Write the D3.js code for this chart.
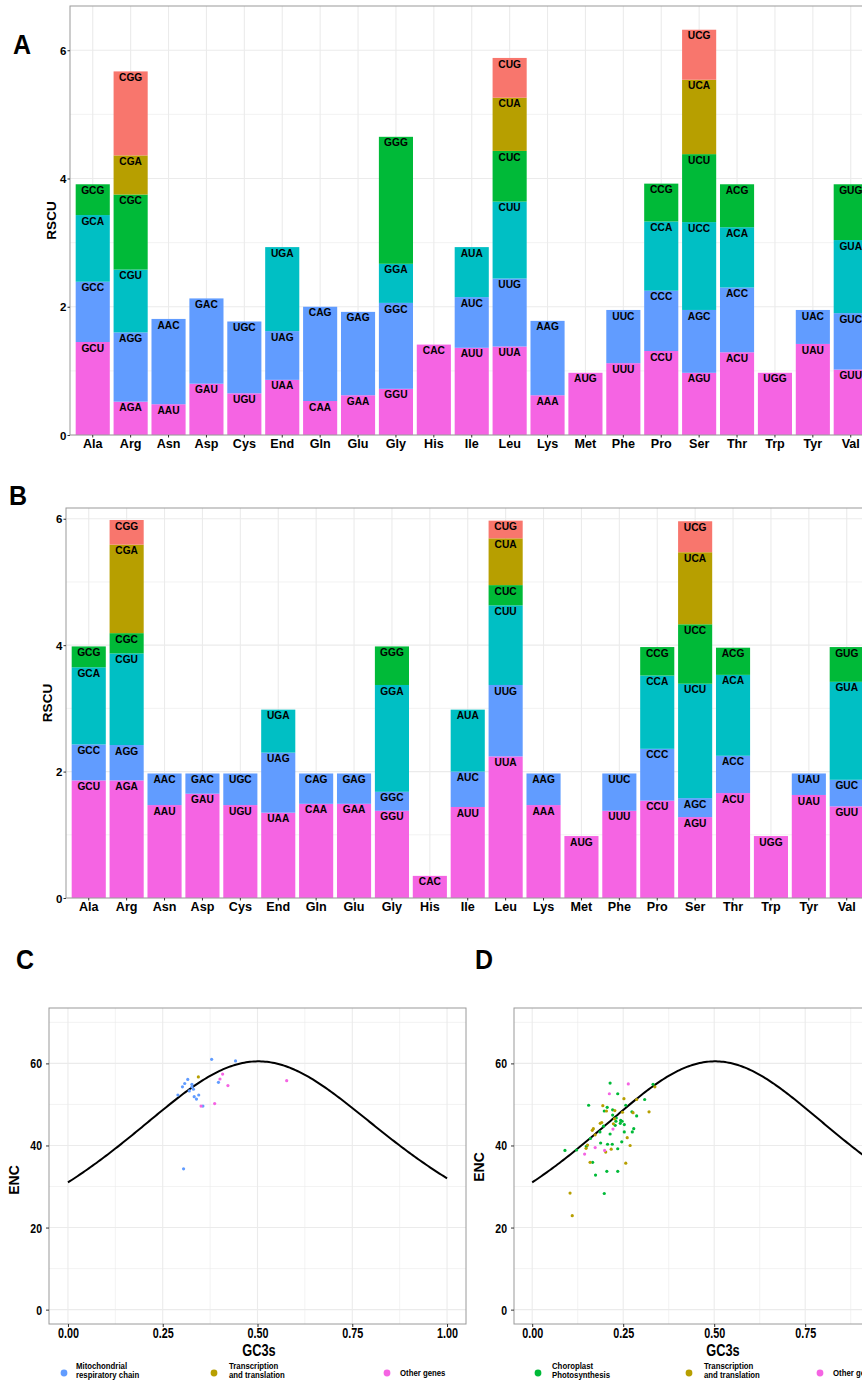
<!DOCTYPE html>
<html>
<head>
<meta charset="utf-8">
<script src="https://cdn.jsdelivr.net/npm/d3@7"></script>
<style>
body { margin: 0; background: #fff; }
svg { display: block; }
text { font-family: "Liberation Sans", Arial, sans-serif; font-weight: bold; fill: #000; }
</style>
</head>
<body>
<div id="chart"></div>
<script>
// amino acids along the x axis of A and B
var aminoAcids = ["Ala","Arg","Asn","Asp","Cys","End","Gln","Glu","Gly","His","Ile","Leu","Lys","Met","Phe","Pro","Ser","Thr","Trp","Tyr","Val"];

// codons of each amino acid, bottom of the stack first
var codonsA = [["GCU","GCC","GCA","GCG"],["AGA","AGG","CGU","CGC","CGA","CGG"],["AAU","AAC"],["GAU","GAC"],["UGU","UGC"],
  ["UAA","UAG","UGA"],["CAA","CAG"],["GAA","GAG"],["GGU","GGC","GGA","GGG"],["CAC"],["AUU","AUC","AUA"],
  ["UUA","UUG","CUU","CUC","CUA","CUG"],["AAA","AAG"],["AUG"],["UUU","UUC"],["CCU","CCC","CCA","CCG"],
  ["AGU","AGC","UCC","UCU","UCA","UCG"],["ACU","ACC","ACA","ACG"],["UGG"],["UAU","UAC"],["GUU","GUC","GUA","GUG"]];
var codonsB = [["GCU","GCC","GCA","GCG"],["AGA","AGG","CGU","CGC","CGA","CGG"],["AAU","AAC"],["GAU","GAC"],["UGU","UGC"],
  ["UAA","UAG","UGA"],["CAA","CAG"],["GAA","GAG"],["GGU","GGC","GGA","GGG"],["CAC"],["AUU","AUC","AUA"],
  ["UUA","UUG","CUU","CUC","CUA","CUG"],["AAA","AAG"],["AUG"],["UUU","UUC"],["CCU","CCC","CCA","CCG"],
  ["AGU","AGC","UCU","UCC","UCA","UCG"],["ACU","ACC","ACA","ACG"],["UGG"],["UAU","UAU"],["GUU","GUC","GUA","GUG"]];

// RSCU values, same order as the codons
var rscuA = [[1.45,0.94,1.04,0.48],[0.52,1.08,0.98,1.17,0.61,1.31],[0.48,1.33],[0.80,1.33],[0.65,1.12],
  [0.86,0.76,1.31],[0.53,1.47],[0.62,1.30],[0.72,1.34,0.61,1.98],[1.41],[1.36,0.79,0.78],
  [1.38,1.06,1.20,0.79,0.83,0.62],[0.62,1.16],[0.97],[1.12,0.83],[1.31,0.94,1.08,0.59],
  [0.97,0.98,1.37,1.06,1.16,0.78],[1.29,1.01,0.94,0.67],[0.97],[1.42,0.53],[1.02,0.88,1.14,0.87]];
var rscuB = [[1.86,0.57,1.22,0.33],[1.86,0.56,1.45,0.32,1.40,0.39],[1.47,0.50],[1.65,0.32],[1.47,0.50],
  [1.35,0.95,0.68],[1.49,0.48],[1.49,0.48],[1.38,0.30,1.69,0.61],[0.35],[1.44,0.56,0.98],
  [2.24,1.13,1.26,0.32,0.74,0.28],[1.47,0.50],[0.98],[1.38,0.59],[1.54,0.82,1.16,0.45],
  [1.28,0.30,1.81,0.94,1.14,0.49],[1.66,0.59,1.28,0.43],[0.98],[1.63,0.34],[1.45,0.42,1.55,0.55]];

// C: GC3s / ENC of the mitochondrial genes
var mitoGC3 = [0.379,0.442,0.316,0.308,0.397,0.302,0.327,0.327,0.331,0.320,0.290,0.345,0.333,0.339,0.356,0.305];
var mitoENC = [61.0,60.6,56.1,55.1,55.4,54.3,54.9,54.3,53.7,53.3,52.3,52.3,51.9,51.3,49.6,34.3];
var mitoTransGC3 = [0.344];
var mitoTransENC = [56.7];
var mitoOtherGC3 = [0.408,0.401,0.577,0.422,0.387,0.351];
var mitoOtherENC = [57.4,56.2,55.8,54.6,50.2,49.6];

// D: GC3s / ENC of the chloroplast genes
var photoGC3 = [0.214,0.235,0.332,0.155,0.257,0.309,0.206,0.221,0.198,0.274,0.287,0.221,0.231,0.243,0.247,0.230,0.242,0.253,0.228,0.196,
  0.279,0.186,0.253,0.275,0.214,0.160,0.246,0.188,0.207,0.220,0.149,0.235,0.090,0.122,0.166,0.174,0.205,0.235,0.198];
var photoENC = [55.2,52.6,54.9,49.8,49.8,51.2,49.3,48.7,48.4,48.2,47.2,47.4,46.7,46.1,45.9,45.9,45.4,45.1,44.9,44.7,
  44.1,43.3,43.3,43.3,42.8,41.7,40.9,40.6,40.3,40.3,39.8,39.2,38.8,38.9,35.9,32.8,33.7,33.7,28.3];
var chloTransGC3 = [0.337,0.252,0.287,0.194,0.227,0.204,0.248,0.277,0.321,0.226,0.191,0.187,0.168,0.165,0.223,0.173,0.261,0.269,
  0.152,0.148,0.217,0.202,0.159,0.257,0.104,0.110];
var chloTransENC = [54.3,51.4,51.2,49.7,48.5,48.4,48.1,48.0,48.2,46.5,45.6,45.4,44.1,43.7,45.3,42.6,41.9,40.0,
  40.1,39.3,39.1,38.4,35.9,35.7,28.4,22.9];
var chloOtherGC3 = [0.264,0.212,0.173,0.144,0.199,0.222];
var chloOtherENC = [55.0,52.6,39.5,37.9,38.8,44.0];

var palette = ["#F564E3","#619CFF","#00BFC4","#00BA38","#B79F00","#F8766D"]; // bottom segment first
var gridCol = "#ebebeb";

var W = 862, H = 1382;
var svg = d3.select("#chart").append("svg").attr("width", W).attr("height", H);

function label(x, y, str, size, sy, anchor) {
  return svg.append("text")
    .attr("transform", "translate(" + x + "," + y + ") scale(1," + sy + ")")
    .attr("text-anchor", anchor || "middle")
    .style("font-size", size + "px")
    .text(str);
}

function styleAxis(g) {
  g.attr("font-family", null).attr("font-size", null);
  g.select(".domain").remove();
  g.selectAll(".tick line").attr("stroke", "#333");
}

///////////////////////
// A and B: stacked RSCU bars
function drawRSCU(codons, values, left, top, bottom, ymax, letter, letterY) {
  var x = d3.scaleBand().domain(aminoAcids)
    .range([left, left + 21.2 * 37.9])
    .paddingInner(0.1).paddingOuter(0.15);
  var y = d3.scaleLinear().domain([0, ymax]).range([bottom, top]);
  var right = left + 21.2 * 37.9;
  var g = svg.append("g");

  g.selectAll("line.minor").data([1, 3, 5]).enter().append("line")
    .attr("x1", left).attr("x2", right)
    .attr("y1", d => y(d)).attr("y2", d => y(d))
    .attr("stroke", gridCol).attr("stroke-width", 0.6);
  g.selectAll("line.major").data([0, 2, 4, 6]).enter().append("line")
    .attr("x1", left).attr("x2", right)
    .attr("y1", d => y(d)).attr("y2", d => y(d))
    .attr("stroke", gridCol).attr("stroke-width", 1.1);
  g.selectAll("line.vgrid").data(aminoAcids).enter().append("line")
    .attr("x1", d => x(d) + x.bandwidth() / 2).attr("x2", d => x(d) + x.bandwidth() / 2)
    .attr("y1", top).attr("y2", bottom)
    .attr("stroke", gridCol).attr("stroke-width", 1.1);

  // one record per stacked codon segment
  var segs = [];
  aminoAcids.forEach(function(aa, i) {
    var cum = d3.cumsum(values[i]);
    values[i].forEach(function(v, j) {
      segs.push({ aa: aa, codon: codons[i][j], y0: cum[j] - v, y1: cum[j], k: j });
    });
  });

  g.selectAll("rect").data(segs).enter().append("rect")
    .attr("x", d => x(d.aa))
    .attr("width", x.bandwidth())
    .attr("y", d => y(d.y1))
    .attr("height", d => y(d.y0) - y(d.y1))
    .attr("fill", d => palette[d.k]);

  g.selectAll("text.codon").data(segs).enter().append("text")
    .attr("class", "codon")
    .attr("text-anchor", "middle")
    .attr("transform", d => "translate(" + (x(d.aa) + x.bandwidth() / 2) + "," + (y(d.y1) + 9.6) + ") scale(1,1.1)")
    .style("font-size", "10.2px")
    .text(d => d.codon);

  g.append("rect").attr("x", left).attr("y", top)
    .attr("width", right - left).attr("height", bottom - top)
    .attr("fill", "none").attr("stroke", "#9a9a9a").attr("stroke-width", 1);

  var ay = g.append("g").attr("transform", "translate(" + left + ",0)")
    .call(d3.axisLeft(y).tickValues([0, 2, 4, 6]).tickFormat(d3.format("d")).tickSize(2.5).tickPadding(1));
  styleAxis(ay);
  ay.selectAll("text").style("font-size", "11.5px").attr("dy", "0.36em");

  var ax = g.append("g").attr("transform", "translate(0," + bottom + ")")
    .call(d3.axisBottom(x).tickSize(2.5));
  styleAxis(ax);
  ax.selectAll("text").style("font-size", "12.6px").attr("dy", 0).attr("y", 12.4)
    .attr("transform", "scale(1,1.05)");

  svg.append("text")
    .attr("transform", "translate(" + (left - 14) + "," + ((top + bottom) / 2) + ") rotate(-90)")
    .attr("text-anchor", "middle").style("font-size", "13.5px")
    .text("RSCU");

  label(left - 48, letterY, letter, 25, 1.1, "middle");
}

drawRSCU(codonsA, rscuA, 70, 6, 435, 6.69, "A", 54);
drawRSCU(codonsB, rscuB, 66, 508, 898, 6.17, "B", 505);

///////////////////////
// C and D: ENC plots with the expected curve
function expectedENC(s) { return 2 + s + 29 / (s * s + (1 - s) * (1 - s)); }
var curveGC3 = d3.range(0, 1.0001, 0.005);

function drawENC(left, right, groups, legend, letter, letterX, titleX, encY) {
  var top = 1008, bottom = 1324;
  var x = d3.scaleLinear().domain([-0.05, 1.05]).range([left, right]);
  var y = d3.scaleLinear().domain([-3.5, 73.5]).range([bottom, top]);
  var g = svg.append("g");
  var clip = "clip" + letter;
  g.append("clipPath").attr("id", clip).append("rect")
    .attr("x", left).attr("y", top).attr("width", right - left).attr("height", bottom - top);

  var xMinor = [0.125, 0.375, 0.625, 0.875], xMajor = [0, 0.25, 0.5, 0.75, 1];
  var yMinor = [10, 30, 50, 70], yMajor = [0, 20, 40, 60];
  g.selectAll("line.xm").data(xMinor).enter().append("line")
    .attr("x1", d => x(d)).attr("x2", d => x(d)).attr("y1", top).attr("y2", bottom)
    .attr("stroke", gridCol).attr("stroke-width", 0.6);
  g.selectAll("line.xM").data(xMajor).enter().append("line")
    .attr("x1", d => x(d)).attr("x2", d => x(d)).attr("y1", top).attr("y2", bottom)
    .attr("stroke", gridCol).attr("stroke-width", 1.1);
  g.selectAll("line.ym").data(yMinor).enter().append("line")
    .attr("x1", left).attr("x2", right).attr("y1", d => y(d)).attr("y2", d => y(d))
    .attr("stroke", gridCol).attr("stroke-width", 0.6);
  g.selectAll("line.yM").data(yMajor).enter().append("line")
    .attr("x1", left).attr("x2", right).attr("y1", d => y(d)).attr("y2", d => y(d))
    .attr("stroke", gridCol).attr("stroke-width", 1.1);

  var line = d3.line().x(d => x(d)).y(d => y(expectedENC(d)));
  g.append("path").datum(curveGC3)
    .attr("clip-path", "url(#" + clip + ")")
    .attr("d", line).attr("fill", "none").attr("stroke", "#000").attr("stroke-width", 2);

  groups.forEach(function(gr) {
    g.append("g").selectAll("circle").data(gr.gc3).enter().append("circle")
      .attr("cx", d => x(d))
      .attr("cy", (d, i) => y(gr.enc[i]))
      .attr("r", 1.6)
      .attr("fill", gr.color);
  });

  g.append("rect").attr("x", left).attr("y", top)
    .attr("width", right - left).attr("height", bottom - top)
    .attr("fill", "none").attr("stroke", "#9a9a9a").attr("stroke-width", 1);

  var ay = g.append("g").attr("transform", "translate(" + left + ",0)")
    .call(d3.axisLeft(y).tickValues(yMajor).tickSize(3));
  styleAxis(ay);
  ay.selectAll("text").style("font-size", "10.5px").attr("x", -7).attr("dy", 0).attr("y", 3.6)
    .attr("transform", "scale(1,1.25)");

  // only the ticks that fit inside the figure are labelled
  var shown = xMajor.filter(d => x(d) < W - 12);
  var ax = g.append("g").attr("transform", "translate(0," + bottom + ")")
    .call(d3.axisBottom(x).tickValues(shown).tickFormat(d3.format(".2f")).tickSize(3));
  styleAxis(ax);
  ax.selectAll("text").style("font-size", "10.8px").attr("dy", 0).attr("y", 10.4)
    .attr("transform", "scale(1,1.35)");

  label(titleX, 1356, "GC3s", 12.8, 1.3, "middle");
  svg.append("text")
    .attr("transform", "translate(" + (left - 30) + "," + encY + ") rotate(-90)")
    .attr("text-anchor", "middle").style("font-size", "14px")
    .text("ENC");

  legend.forEach(function(it) {
    svg.append("circle").attr("cx", it.cx).attr("cy", 1373).attr("r", 3.4).attr("fill", it.color);
    if (it.lines.length === 1) {
      label(it.tx, 1376, it.lines[0], 7.8, 1.1, "start");
    } else {
      label(it.tx, 1369.3, it.lines[0], 7.8, 1.1, "start");
      label(it.tx, 1378.3, it.lines[1], 7.8, 1.1, "start");
    }
  });

  label(letterX, 969, letter, 25, 1.1, "middle");
}

drawENC(49, 466, [
  { gc3: mitoGC3, enc: mitoENC, color: "#619CFF" },
  { gc3: mitoTransGC3, enc: mitoTransENC, color: "#B79F00" },
  { gc3: mitoOtherGC3, enc: mitoOtherENC, color: "#F564E3" }
], [
  { cx: 64, tx: 76, color: "#619CFF", lines: ["Mitochondrial", "respiratory chain"] },
  { cx: 214, tx: 229, color: "#B79F00", lines: ["Transcription", "and translation"] },
  { cx: 387, tx: 400, color: "#F564E3", lines: ["Other genes"] }
], "C", 25, 259, 1180);

drawENC(514, 914.4, [
  { gc3: photoGC3, enc: photoENC, color: "#00BA38" },
  { gc3: chloTransGC3, enc: chloTransENC, color: "#B79F00" },
  { gc3: chloOtherGC3, enc: chloOtherENC, color: "#F564E3" }
], [
  { cx: 538, tx: 552, color: "#00BA38", lines: ["Choroplast", "Photosynthesis"] },
  { cx: 689, tx: 704, color: "#B79F00", lines: ["Transcription", "and translation"] },
  { cx: 820, tx: 833, color: "#F564E3", lines: ["Other genes"] }
], "D", 484, 723, 1167);
</script>
</body>
</html>
